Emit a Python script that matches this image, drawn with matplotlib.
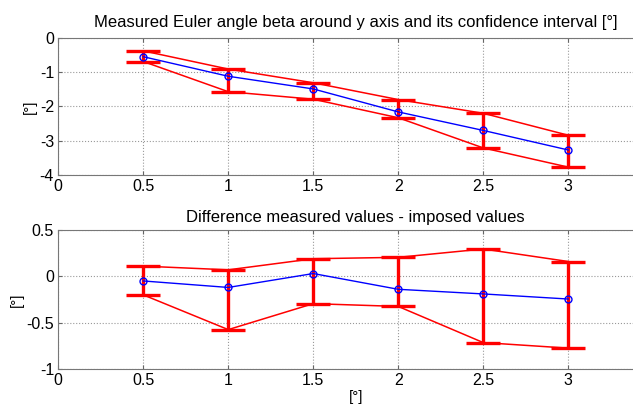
import matplotlib
matplotlib.use("Agg")
import matplotlib.pyplot as plt
import numpy as np

plt.rcParams['font.family'] = ['Liberation Sans', 'DejaVu Sans']

x = [0.5, 1.0, 1.5, 2.0, 2.5, 3.0]

beta = [-0.55, -1.12, -1.49, -2.16, -2.70, -3.27]
beta_up = [-0.38, -0.91, -1.31, -1.80, -2.20, -2.84]
beta_lo = [-0.69, -1.57, -1.79, -2.33, -3.21, -3.77]

diff = [-0.05, -0.12, 0.03, -0.14, -0.19, -0.245]
diff_up = [0.11, 0.07, 0.19, 0.205, 0.295, 0.16]
diff_lo = [-0.20, -0.575, -0.295, -0.325, -0.715, -0.775]

top_title = "Measured Euler angle beta around y axis and its confidence interval [°]"
bot_title = "Difference measured values - imposed values"
unit = "[°]"
xticks = [0, 0.5, 1, 1.5, 2, 2.5, 3]


def draw_panel(ax, val, up, lo, title, yticks, pad):
    xs = np.array(x)
    ax.plot(xs, up, color="red", lw=1.1, zorder=2)
    ax.plot(xs, lo, color="red", lw=1.1, zorder=2)
    ax.vlines(xs, lo, up, color="red", lw=2.4, zorder=3)
    ax.hlines(up, xs - 0.1, xs + 0.1, color="red", lw=2.4, zorder=3)
    ax.hlines(lo, xs - 0.1, xs + 0.1, color="red", lw=2.4, zorder=3)
    ax.plot(xs, val, color="blue", lw=1.0, marker="o", ms=5,
            mfc="none", mec="blue", zorder=4)
    ax.set_xlim(0, 3.5)
    ax.set_xticks(xticks)
    ax.set_xticklabels(["%g" % t for t in xticks])
    ax.set_ylim(yticks[0], yticks[-1])
    ax.set_yticks(yticks)
    ax.set_yticklabels(["%g" % t for t in yticks])
    ax.grid(True, color="#999999", linestyle=":", lw=0.8)
    ax.tick_params(direction="in", labelsize=11.5, length=3, color="#666666",
                   pad=3, top=True, right=True)
    for s in ax.spines.values():
        s.set_color("#777777")
    ax.set_title(title, fontsize=12, pad=pad)
    ax.set_ylabel(unit, fontsize=11, labelpad=2)


fig = plt.figure(figsize=(6.33, 4.07), dpi=100)
ax1 = fig.add_axes([0.092, 0.570, 0.940, 0.337])
ax2 = fig.add_axes([0.092, 0.0934, 0.940, 0.3415])

draw_panel(ax1, beta, beta_up, beta_lo, top_title, [-4, -3, -2, -1, 0], 8)
draw_panel(ax2, diff, diff_up, diff_lo, bot_title, [-1, -0.5, 0, 0.5], 6)
ax2.set_xlabel(unit, fontsize=11, labelpad=1)

fig.savefig("out.png", dpi=100)
